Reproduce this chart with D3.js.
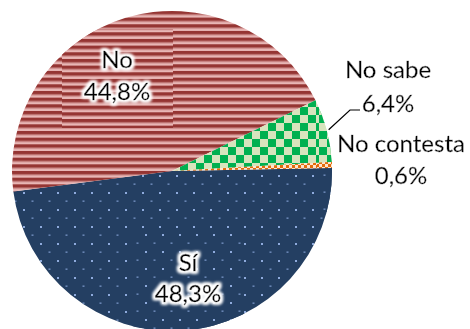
<!DOCTYPE html>
<html><head><meta charset="utf-8">
<script src="https://cdn.jsdelivr.net/npm/d3@7"></script>
<style>html,body{margin:0;padding:0;background:#fff;}svg{display:block;}</style>
</head><body>
<svg id="c" width="470" height="329"></svg>
<script>
const categories = ["Sí", "No", "No sabe", "No contesta"];
const values = [48.3, 44.8, 6.4, 0.6];
const valueLabels = ["48,3%", "44,8%", "6,4%", "0,6%"];
const patternIds = ["dots", "stripes", "checkGreen", "checkOrange"];

const W = 470, H = 329;
const cx = 172, cy = 171, R = 160;
const start = 88.9 * Math.PI / 180;

const svg = d3.select("#c");
const defs = svg.append("defs");

function makePatterns(suffix, dx, dy) {
  // stripes (No)
  const sp = 6.67;
  let p = defs.append("pattern").attr("id", "stripes" + suffix).attr("patternUnits", "userSpaceOnUse")
    .attr("width", 6).attr("height", sp).attr("patternTransform", `translate(${dx},${dy})`);
  p.append("rect").attr("width", 6).attr("height", sp).attr("fill", "#e8b6b5");
  p.append("rect").attr("y", 0).attr("width", 6).attr("height", 3.5).attr("fill", "#953533");
  p.append("rect").attr("y", 3.5).attr("width", 6).attr("height", 0.8).attr("fill", "#c47a79");
  // dots (Sí)
  p = defs.append("pattern").attr("id", "dots" + suffix).attr("patternUnits", "userSpaceOnUse")
    .attr("width", 17).attr("height", 17).attr("patternTransform", `translate(${dx},${dy})`);
  p.append("rect").attr("width", 17).attr("height", 17).attr("fill", "#243f62");
  p.append("rect").attr("x", 4).attr("y", 4).attr("width", 2).attr("height", 2).attr("fill", "#8eaadc");
  p.append("rect").attr("x", 12.5).attr("y", 12.5).attr("width", 2).attr("height", 1.3).attr("fill", "#7794c6");
  // green checker (No sabe)
  p = defs.append("pattern").attr("id", "checkGreen" + suffix).attr("patternUnits", "userSpaceOnUse")
    .attr("width", 16).attr("height", 16).attr("patternTransform", `translate(${dx},${dy})`);
  p.append("rect").attr("width", 16).attr("height", 16).attr("fill", "#d7e4bd");
  p.append("rect").attr("x", 0).attr("y", 0).attr("width", 8).attr("height", 8).attr("fill", "#00b050");
  p.append("rect").attr("x", 8).attr("y", 8).attr("width", 8).attr("height", 8).attr("fill", "#00b050");
  // orange checker (No contesta)
  p = defs.append("pattern").attr("id", "checkOrange" + suffix).attr("patternUnits", "userSpaceOnUse")
    .attr("width", 6).attr("height", 6).attr("patternTransform", `translate(${dx},${dy})`);
  p.append("rect").attr("width", 6).attr("height", 6).attr("fill", "#fce4d0");
  p.append("rect").attr("x", 0).attr("y", 0).attr("width", 3).attr("height", 3).attr("fill", "#e46c0a");
  p.append("rect").attr("x", 3).attr("y", 3).attr("width", 3).attr("height", 3).attr("fill", "#e46c0a");
}
makePatterns("", 0, 0);
makePatterns("B", 3, 8);

// glow filter
const f = defs.append("filter").attr("id", "glow").attr("x", "-20%").attr("y", "-20%").attr("width", "140%").attr("height", "140%");
f.append("feMorphology").attr("in", "SourceAlpha").attr("operator", "dilate").attr("radius", 1.5).attr("result", "d");
f.append("feGaussianBlur").attr("in", "d").attr("stdDeviation", 1.5).attr("result", "b");
f.append("feFlood").attr("flood-color", "#ffffff").attr("result", "w");
f.append("feComposite").attr("in", "w").attr("in2", "b").attr("operator", "in").attr("result", "g");
const fm = f.append("feMerge");
fm.append("feMergeNode").attr("in", "g");
fm.append("feMergeNode").attr("in", "g");
fm.append("feMergeNode").attr("in", "SourceGraphic");

const pie = d3.pie().sort(null).value(d => d).startAngle(start).endAngle(start + 2 * Math.PI);
const arcs = pie(values);
const arc = d3.arc().innerRadius(0).outerRadius(R);

const g = svg.append("g").attr("transform", `translate(${cx},${cy})`);
g.selectAll("path.slice").data(arcs).join("path").attr("class", "slice")
  .attr("d", arc).attr("fill", (d, i) => `url(#${patternIds[i]})`);

// label boxes (shifted pattern areas), relative to center
const boxes = [
  {x: 132 - cx, y: 230 - cy, w: 112, h: 100},
  {x: 62 - cx, y: 29 - cy, w: 111, h: 99},
  {x: 317 - cx, y: 98 - cy, w: 30, h: 114}
];
const cp = defs.append("clipPath").attr("id", "boxclip");
boxes.forEach(b => cp.append("rect").attr("x", b.x).attr("y", b.y).attr("width", b.w).attr("height", b.h));
const gb = g.append("g").attr("clip-path", "url(#boxclip)");
gb.selectAll("path").data(arcs).join("path")
  .attr("d", arc).attr("fill", (d, i) => `url(#${patternIds[i]}B)`);

// labels
const font = "Lato, 'Open Sans', sans-serif";
const inside = [
  {i: 0, x: 188, y1: 271, y2: 302},
  {i: 1, x: 117, y1: 68, y2: 100}
];
const outside = [
  {i: 2, x: 388, y1: 78, y2: 112},
  {i: 3, x: 401, y1: 152, y2: 184}
];
const lg = svg.append("g").attr("filter", "url(#glow)");
inside.concat(outside).forEach(L => {
  const t = lg.append("text").attr("text-anchor", "middle").attr("font-family", font)
    .attr("font-size", 24).attr("fill", "#000").attr("stroke", "#000").attr("stroke-width", 0.35);
  t.append("tspan").attr("x", L.x).attr("y", L.y1).text(categories[L.i]);
  t.append("tspan").attr("x", L.x).attr("y", L.y2).text(valueLabels[L.i]);
});

// leader line for No sabe
const a2 = arcs[2];
const mid = (a2.startAngle + a2.endAngle) / 2;
const sx = cx + (R + 2) * Math.sin(mid), sy = cy - (R + 2) * Math.cos(mid);
svg.append("path").attr("d", `M${sx},${sy}L350,110L360,110`)
  .attr("fill", "none").attr("stroke", "#000").attr("stroke-width", 1.2);
</script>
</body></html>
